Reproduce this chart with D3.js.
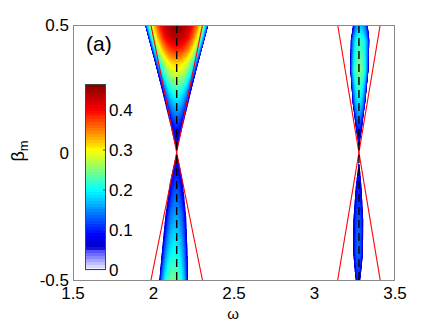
<!DOCTYPE html>
<html><head><meta charset="utf-8">
<script src="https://cdn.jsdelivr.net/npm/d3@7"></script>
<style>body{margin:0;background:#fff}text{font-family:Arial,"Liberation Sans",sans-serif;fill:#000}</style>
</head><body><svg id="c" width="436" height="325"></svg>
<script>
// ---- axis ticks ----
const xTicks = [1.5, 2, 2.5, 3, 3.5];
const xTickLabels = ["1.5", "2", "2.5", "3", "3.5"];
const yTicks = [-0.5, 0, 0.5];
const yTickLabels = ["-0.5", "0", "0.5"];
// ---- colorbar ----
const cbTicks = [0, 0.1, 0.2, 0.3, 0.4];
const cbTickLabels = ["0", "0.1", "0.2", "0.3", "0.4"];
const cbMax = 0.465;
const cmapStops = [0, 0.05, 0.056, 0.09, 0.2, 0.3, 0.4, 0.465];
const cmapColors = ["#ffffff", "#4848ff", "#0000c8", "#0000ff", "#00ffff", "#ffff00", "#ff0000", "#800000"];
// ---- resonance centres and red boundary slopes ----
const omegaCenters = [2.144, 3.276];
const redSlopes = [0.32, 0.264];
// ---- lobes: |beta| samples, half width (omega), peak value, centre offset ----
const lobeCenter = [2.144, 2.144, 3.276, 3.276];
const lobeSign = [1, -1, 1, -1];
const betaLU = [0, 0.02, 0.05, 0.1, 0.15, 0.2, 0.25, 0.3, 0.35, 0.4, 0.45, 0.5];
const hwLU   = [0, 0.008, 0.02, 0.039, 0.058, 0.077, 0.096, 0.116, 0.136, 0.157, 0.178, 0.199];
const peakLU = [0.04, 0.06, 0.075, 0.105, 0.145, 0.185, 0.225, 0.275, 0.32, 0.385, 0.435, 0.46];
const offLU  = [0, 0, 0, 0, 0, 0, 0, 0, 0, 0, 0, 0];
const betaLL = [0, 0.02, 0.056, 0.12, 0.25, 0.38, 0.5];
const hwLL   = [0, 0.01, 0.023, 0.0435, 0.067, 0.081, 0.091];
const peakLL = [0.05, 0.07, 0.09, 0.115, 0.16, 0.2, 0.245];
const offLL  = [0, 0, 0, -0.002, -0.006, -0.012, -0.019];
const betaRU = [0, 0.02, 0.088, 0.15, 0.194, 0.324, 0.441, 0.5];
const hwRU   = [0, 0.003, 0.0205, 0.032, 0.0416, 0.059, 0.06, 0.048];
const peakRU = [0.05, 0.06, 0.1, 0.16, 0.19, 0.25, 0.22, 0.17];
const offRU  = [0, 0, 0, 0, 0, 0.003, 0.007, 0.009];
const betaRL = [0.03, 0.06, 0.135, 0.265, 0.394, 0.488, 0.5];
const hwRL   = [0, 0.008, 0.0205, 0.033, 0.033, 0.019, 0.016];
const peakRL = [0.06, 0.07, 0.1, 0.13, 0.135, 0.11, 0.1];
const offRL  = [0, 0, -0.002, -0.004, -0.005, -0.006, -0.006];

const lobes = [
  {beta: betaLU, hw: hwLU, peak: peakLU, off: offLU},
  {beta: betaLL, hw: hwLL, peak: peakLL, off: offLL},
  {beta: betaRU, hw: hwRU, peak: peakRU, off: offRU},
  {beta: betaRL, hw: hwRL, peak: peakRL, off: offRL}
].map((L, k) => ({
  c: lobeCenter[k], s: lobeSign[k], bmin: L.beta[0],
  hw: d3.scaleLinear(L.beta, L.hw).clamp(true),
  pk: d3.scaleLinear(L.beta, L.peak).clamp(true),
  of: d3.scaleLinear(L.beta, L.off).clamp(true)
}));

const svg = d3.select("#c");
const L = 73, R = 395, T = 25, B = 280;
const x = d3.scaleLinear([1.5, 3.5], [L, R]);
const y = d3.scaleLinear([-0.5, 0.5], [B, T]);
const cmap = d3.scaleLinear(cmapStops, cmapColors).interpolate(d3.interpolateRgb).clamp(true);
const nLev = 64;
const levColor = v => {
  const k = Math.min(nLev - 1, Math.max(0, Math.floor(v / cbMax * nLev)));
  return cmap((k + 0.5) / nLev * cbMax);
};

svg.append("defs").append("clipPath").attr("id", "pc")
  .append("rect").attr("x", L).attr("y", T).attr("width", R - L).attr("height", B - T);
const plot = svg.append("g").attr("clip-path", "url(#pc)");

// heatmap cells
const cols = 322, rows = 255, dW = 2 / cols, dB = 1 / rows;
const cells = [];
for (let i = 0; i < cols; i++) {
  const w = 1.5 + (i + 0.5) * dW;
  for (let j = 0; j < rows; j++) {
    const b = -0.5 + (j + 0.5) * dB;
    let val = null;
    for (const lb of lobes) {
      if (lb.s * b <= 0) continue;
      const ab = Math.abs(b);
      if (ab < lb.bmin) continue;
      const hw = lb.hw(ab);
      if (hw <= 0) continue;
      const u = Math.abs(w - (lb.c + lb.of(ab))) / hw;
      if (u < 1) { val = lb.pk(ab) * Math.sqrt(1 - u * u); }
    }
    if (val !== null && val > 0.004) cells.push({w, b, v: val});
  }
}
const cw = x(dW) - x(0), ch = y(0) - y(dB);
plot.append("g").attr("shape-rendering", "crispEdges").selectAll("rect").data(cells).join("rect")
  .attr("x", d => x(d.w) - cw / 2).attr("y", d => y(d.b) - ch / 2)
  .attr("width", cw + 0.4).attr("height", ch + 0.4)
  .attr("fill", d => levColor(d.v));

// red boundary lines
const line = d3.line().x(d => x(d[0])).y(d => y(d[1]));
omegaCenters.forEach((c, k) => {
  const s = redSlopes[k];
  [[[c - s * 0.5, 0.5], [c + s * 0.5, -0.5]], [[c + s * 0.5, 0.5], [c - s * 0.5, -0.5]]].forEach(pts => {
    plot.append("path").attr("d", line(pts)).attr("fill", "none").attr("stroke", "#ff0000").attr("stroke-width", 1.1);
  });
});
// dashed centre lines
omegaCenters.forEach(c => {
  plot.append("path").attr("d", line([[c, 0.5], [c, -0.5]])).attr("fill", "none")
    .attr("stroke", "#000").attr("stroke-width", 1.4).attr("stroke-dasharray", "8,5");
});

// axes box
svg.append("rect").attr("x", L + 0.5).attr("y", T + 0.5).attr("width", R - L - 1).attr("height", B - T)
  .attr("fill", "none").attr("stroke", "#8a8a8a").attr("stroke-width", 1);

// tick labels
svg.append("g").selectAll("text").data(xTicks).join("text")
  .attr("x", d => x(d)).attr("y", 298.5).attr("text-anchor", "middle").attr("font-size", 17)
  .text((d, i) => xTickLabels[i]);
svg.append("g").selectAll("text").data(yTicks).join("text")
  .attr("x", 69).attr("y", d => y(d) + 6).attr("text-anchor", "end").attr("font-size", 17)
  .text((d, i) => yTickLabels[i]);

// axis labels
svg.append("text").attr("x", 233).attr("y", 319).attr("text-anchor", "middle").attr("font-size", 15).text("ω");
const yl = svg.append("text").attr("transform", "translate(24,151) rotate(-90)").attr("text-anchor", "middle").attr("font-size", 18);
yl.append("tspan").text("β");
yl.append("tspan").attr("font-size", 13).attr("dy", 4).text("m");

// panel label
svg.append("text").attr("x", 86).attr("y", 51).attr("font-size", 21).text("(a)");

// colorbar
const cbX0 = 85, cbX1 = 106;
const cy = d3.scaleLinear([0, cbMax], [270, 84]);
const cb = svg.append("g");
cb.append("g").attr("shape-rendering", "crispEdges").selectAll("rect").data(d3.range(nLev)).join("rect")
  .attr("x", cbX0).attr("width", cbX1 - cbX0)
  .attr("y", k => cy((k + 1) / nLev * cbMax)).attr("height", k => cy(k / nLev * cbMax) - cy((k + 1) / nLev * cbMax) + 0.5)
  .attr("fill", k => cmap((k + 0.5) / nLev * cbMax));
cb.append("rect").attr("x", cbX0 + 0.5).attr("y", cy(cbMax) + 0.5).attr("width", cbX1 - cbX0 - 1)
  .attr("height", cy(0) - cy(cbMax) - 1).attr("fill", "none").attr("stroke", "#444").attr("stroke-width", 1);
cb.append("g").selectAll("line").data(cbTicks.slice(1)).join("line")
  .attr("x1", cbX1 - 3).attr("x2", cbX1).attr("y1", d => cy(d)).attr("y2", d => cy(d))
  .attr("stroke", "#444").attr("stroke-width", 1);
cb.append("g").selectAll("text").data(cbTicks).join("text")
  .attr("x", 109).attr("y", d => cy(d) + 6).attr("font-size", 17)
  .text((d, i) => cbTickLabels[i]);
</script></body></html>
